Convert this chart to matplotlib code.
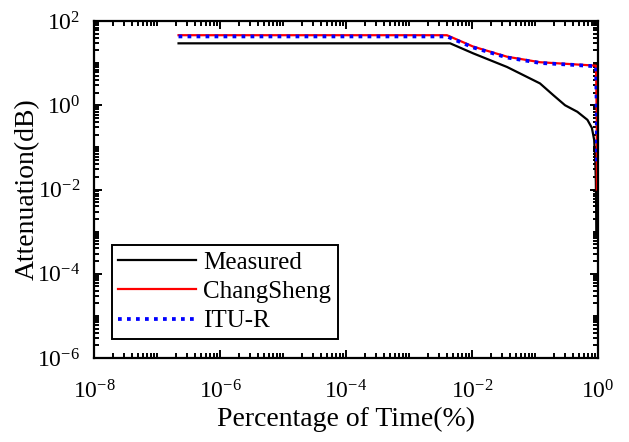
import numpy as np
import matplotlib
matplotlib.use("Agg")
import matplotlib.pyplot as plt
from matplotlib.ticker import LogLocator, FuncFormatter, NullFormatter

plt.rcParams['font.family'] = ['Liberation Serif', 'DejaVu Serif']
plt.rcParams['mathtext.fontset'] = 'custom'
plt.rcParams['mathtext.rm'] = 'Liberation Serif'

# Data (Percentage of time %, Attenuation dB)
meas_x = [2.2e-7, 4.5e-3, 1.05e-2, 3.6e-2, 0.12, 0.195, 0.30, 0.47, 0.68, 0.80, 0.87, 0.905, 0.925, 0.935, 0.94]
meas_y = [29.5, 29.5, 17.0, 8.1, 3.3, 1.74, 1.0, 0.70, 0.45, 0.29, 0.15, 0.05, 0.015, 0.004, 0.0009]

cs_x = [2.2e-7, 4.0e-3, 1.05e-2, 3.6e-2, 0.12, 0.40, 0.93, 0.955, 0.96]
cs_y = [46.0, 46.0, 24.6, 14.2, 10.5, 9.4, 8.7, 0.5, 0.01]

itu_x = [2.2e-7, 4.0e-3, 1.05e-2, 3.6e-2, 0.12, 0.40, 0.93, 0.955, 0.96]
itu_y = [43.0, 43.0, 23.5, 13.6, 10.1, 9.1, 8.4, 0.8, 0.045]

fig = plt.figure(figsize=(6.29, 4.42), dpi=100)
ax = fig.add_axes([0.1494, 0.19, 0.8013, 0.7625])

ax.plot(meas_x, meas_y, color='black', lw=1.6, label='Measured')
ax.plot(cs_x, cs_y, color='red', lw=1.6, label='ChangSheng')
ax.plot(itu_x, itu_y, color='blue', lw=2.7, linestyle=(0, (1, 1.4)), label='ITU-R')

ax.set_xscale('log')
ax.set_yscale('log')
ax.set_xlim(1e-8, 1e0)
ax.set_ylim(1e-6, 1e2)

def fmt(v, pos):
    e = int(round(np.log10(v)))
    return r'$\mathregular{10^{%d}}$' % e

ax.xaxis.set_major_locator(LogLocator(base=100, numticks=20))
ax.yaxis.set_major_locator(LogLocator(base=100, numticks=20))
ax.xaxis.set_minor_locator(LogLocator(base=10, subs=np.arange(1, 10), numticks=100))
ax.yaxis.set_minor_locator(LogLocator(base=10, subs=np.arange(1, 10), numticks=100))
ax.xaxis.set_major_formatter(FuncFormatter(fmt))
ax.yaxis.set_major_formatter(FuncFormatter(fmt))
ax.xaxis.set_minor_formatter(NullFormatter())
ax.yaxis.set_minor_formatter(NullFormatter())

ax.tick_params(which='both', direction='in', top=True, right=True, width=1.4)
ax.tick_params(which='major', length=6, labelsize=17)
ax.tick_params(axis='x', which='major', pad=16)
ax.tick_params(axis='y', which='major', pad=10)
ax.tick_params(which='minor', length=3.5)
for s in ax.spines.values():
    s.set_linewidth(1.6)

ax.set_xlabel('Percentage of Time(%)', fontsize=20)
ax.set_ylabel('Attenuation(dB)', fontsize=20)
ax.xaxis.label.set_va('center')
ax.yaxis.label.set_va('center')
ax.xaxis.set_label_coords(0.5, -0.181)
ax.yaxis.set_label_coords(-0.133, 0.5)

leg = ax.legend(loc='upper left', bbox_to_anchor=(0.036, 0.335), borderaxespad=0,
                fancybox=False, edgecolor='black', framealpha=1, fontsize=18,
                handlelength=3.1, handletextpad=0.3, labelspacing=0.27, borderpad=0.25)
leg.get_frame().set_linewidth(1.4)

fig.savefig('out.png', dpi=100)
